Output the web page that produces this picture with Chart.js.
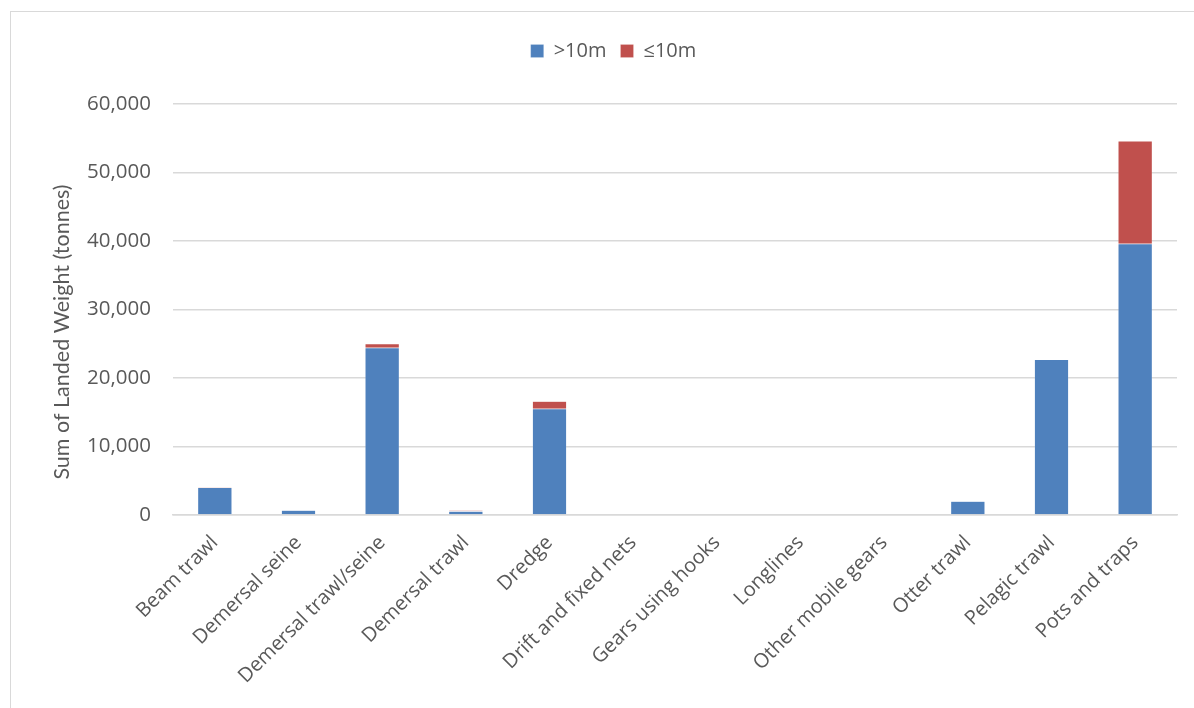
<!DOCTYPE html>
<html>
<head>
<meta charset="utf-8">
<script src="https://cdn.jsdelivr.net/npm/chart.js@4/dist/chart.umd.min.js"></script>
<style>
  html, body { margin: 0; padding: 0; background: #fff; overflow: hidden; }
  #frame {
    position: absolute; left: 10px; top: 11px; width: 1300px; height: 800px;
    border: 1.5px solid #d9d9d9; box-sizing: border-box;
  }
  #wrap { position: absolute; left: 0; top: 0; width: 1194px; height: 708px; }
</style>
</head>
<body>
<div id="frame"></div>
<div id="wrap"><canvas id="myChart" width="1194" height="708"></canvas></div>
<script>
// landed weight by gear type, split by vessel length
const gears = [
  "Beam trawl", "Demersal seine", "Demersal trawl/seine", "Demersal trawl",
  "Dredge", "Drift and fixed nets", "Gears using hooks", "Longlines",
  "Other mobile gears", "Otter trawl", "Pelagic trawl", "Pots and traps"
];
const over10m = [4000, 700, 24400, 550, 15500, 0, 0, 0, 0, 2000, 22700, 39600];
const under10m = [100, 0, 600, 150, 1100, 0, 0, 0, 0, 50, 0, 15000];
const yTicks = [0, 10000, 20000, 30000, 40000, 50000, 60000];
const yTitle = "Sum of Landed Weight (tonnes)";

const textGrey = "#595959";
const gridGrey = "#d9d9d9";
const labelFont = "'Open Sans', sans-serif";
const titleFont = "Lato, sans-serif";

Chart.defaults.font.family = labelFont;
Chart.defaults.color = textGrey;

// leave some extra room between the legend and the plot
const legendGap = {
  id: "legendGap",
  beforeInit(chart) {
    const fit = chart.legend.fit;
    chart.legend.fit = function() {
      fit.bind(chart.legend)();
      this.height += 33;
    };
  }
};

// vertical axis title, sitting a little below the plot middle
const axisTitle = {
  id: "axisTitle",
  afterDraw(chart) {
    const c = chart.ctx;
    c.save();
    c.translate(62, 332);
    c.rotate(-Math.PI / 2);
    c.font = "21.5px " + titleFont;
    c.fillStyle = textGrey;
    c.textAlign = "center";
    c.textBaseline = "middle";
    c.fillText(yTitle, 0, 0);
    c.restore();
  }
};

const ctx = document.getElementById("myChart");
const myChart = new Chart(ctx, {
  type: "bar",
  data: {
    labels: gears,
    datasets: [{
      label: ">10m",
      data: over10m,
      backgroundColor: "#4f81bd",
      borderColor: "rgba(255,255,255,0.35)",
      borderWidth: 0.5,
      barPercentage: 0.41,
      categoryPercentage: 1.0
    }, {
      label: "\u226410m",
      data: under10m,
      backgroundColor: "#c0504d",
      borderColor: "rgba(255,255,255,0.35)",
      borderWidth: 0.5,
      barPercentage: 0.41,
      categoryPercentage: 1.0
    }]
  },
  plugins: [legendGap, axisTitle],
  options: {
    responsive: false,
    animation: false,
    layout: { padding: { left: 50, right: 17, top: 27, bottom: 0 } },
    plugins: {
      tooltip: { enabled: false },
      legend: {
        position: "top",
        labels: {
          boxWidth: 13, boxHeight: 13,
          font: { size: 20 },
          color: textGrey,
          padding: 14
        }
      }
    },
    scales: {
      x: {
        stacked: true,
        grid: { display: false, drawTicks: false },
        border: { color: gridGrey, width: 1.5 },
        ticks: {
          minRotation: 45, maxRotation: 45,
          font: { size: 20 }, color: textGrey, padding: 16
        },
        afterFit: (axis) => { axis.height = 193; }
      },
      y: {
        stacked: true,
        min: 0, max: 60000,
        afterBuildTicks: (axis) => { axis.ticks = yTicks.map(v => ({ value: v })); },
        grid: { color: gridGrey, lineWidth: 1.5, drawTicks: false },
        border: { display: false },
        ticks: {
          font: { size: 20.5 }, color: textGrey, padding: 22,
          callback: (v) => v.toLocaleString("en-US")
        },
        afterFit: (axis) => { axis.width = 123; }
      }
    }
  }
});
console.log(myChart.chartArea);
</script>
</body>
</html>
